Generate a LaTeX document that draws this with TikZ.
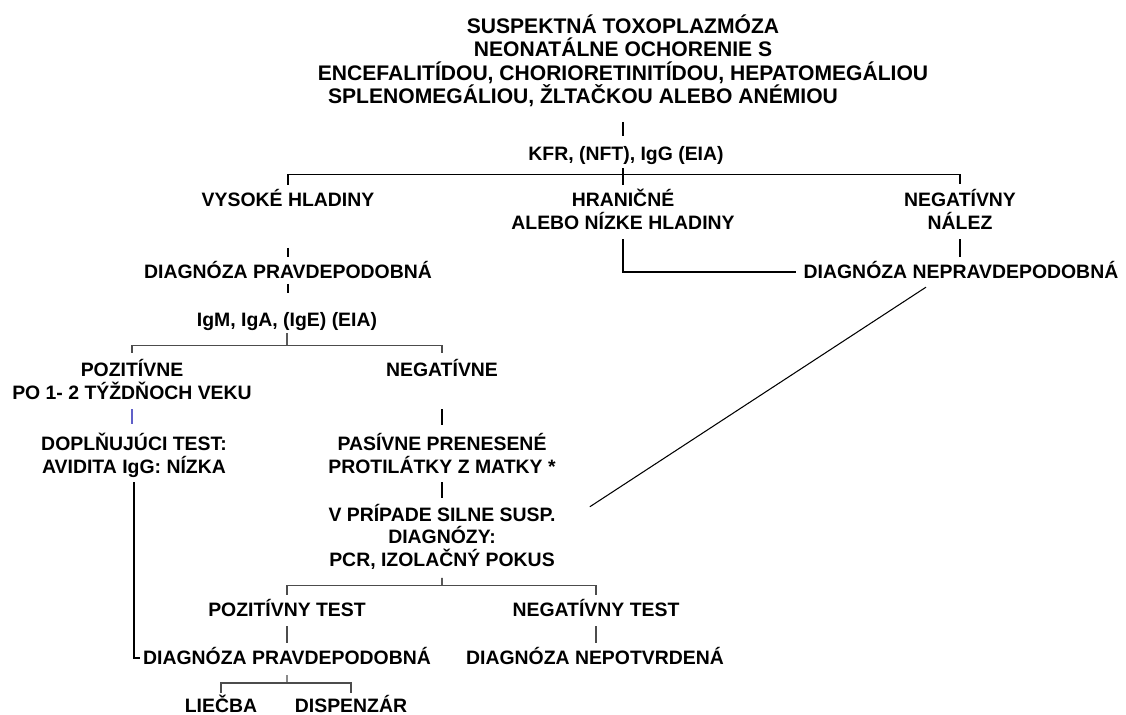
\documentclass[tikz,border=0pt]{standalone}
\usepackage{fontspec}
\setmainfont{Liberation Sans}
\usetikzlibrary{calc}
\definecolor{tickblue}{RGB}{96,96,200}
\newcommand\ystrut{\rule[-2.6pt]{0pt}{13pt}}
\newcommand\tstrut{\rule[-1.9pt]{0pt}{13.3pt}}

\begin{document}
\begin{tikzpicture}[x=0.02cm,y=-0.02cm]
    \tikzstyle{every node} = [font=\fontsize{11.05}{13}\selectfont\bfseries, inner sep=0pt, align=center]
    \tikzstyle{head} = [font=\fontsize{12}{13.3}\selectfont\bfseries]
    \tikzstyle{conn} = [line width=0.6pt]
    \tikzstyle{branch} = [line width=0.6pt, black!70]
    \useasboundingbox (0,0) rectangle (1126,715);
    % place nodes
    \node[head](title) at (623,60.25){\tstrut SUSPEKTNÁ TOXOPLAZMÓZA\\NEONATÁLNE OCHORENIE S\\ENCEFALITÍDOU, CHORIORETINITÍDOU, HEPATOMEGÁLIOU\\SPLENOMEGÁLIOU, ŽLTAČKOU ALEBO ANÉMIOU\hspace*{1.6cm}\tstrut};
    \node(kfr) at (626,154){KFR, (NFT), IgG (EIA)\ystrut};
    \node(vys) at (288,200){VYSOKÉ HLADINY\ystrut};
    \node(hran) at (623,211){HRANIČNÉ\ystrut\\ALEBO NÍZKE HLADINY\ystrut};
    \node(neg) at (960,211){NEGATÍVNY\ystrut\\NÁLEZ\ystrut};
    \node(dpr) at (288,272){DIAGNÓZA PRAVDEPODOBNÁ\ystrut};
    \node(dnep) at (961,272){DIAGNÓZA NEPRAVDEPODOBNÁ\ystrut};
    \node(igm) at (287,320){IgM, IgA, (IgE) (EIA)\ystrut};
    \node(poz) at (132,381.5){POZITÍVNE\ystrut\\PO 1- 2 TÝŽDŇOCH VEKU\ystrut};
    \node(negv) at (442,370){NEGATÍVNE\ystrut};
    \node(dopl) at (134,455){DOPLŇUJÚCI TEST:\ystrut\\AVIDITA IgG: NÍZKA\ystrut};
    \node(pas) at (442,455){PASÍVNE PRENESENÉ\ystrut\\PROTILÁTKY Z MATKY *\ystrut};
    \node(vpr) at (442,537){V PRÍPADE SILNE SUSP.\ystrut\\DIAGNÓZY:\ystrut\\PCR, IZOLAČNÝ POKUS\ystrut};
    \node(pozt) at (287,610){POZITÍVNY TEST\ystrut};
    \node(negt) at (596,610){NEGATÍVNY TEST\ystrut};
    \node(dpr2) at (287,658){DIAGNÓZA PRAVDEPODOBNÁ\ystrut};
    \node(dnepot) at (595,658){DIAGNÓZA NEPOTVRDENÁ\ystrut};
    \node(lie) at (221,706){LIEČBA\ystrut};
    \node(disp) at (351,706){DISPENZÁR\ystrut};

    % Connections
    \draw[conn, shorten <=8.3pt, shorten >=3.7pt] (title.south) -- (title.south |- kfr.north);
    \draw[conn, shorten <=1.4pt, shorten >=1.8pt] (hran.north |- kfr.south) -- (hran.north);
    \coordinate (b1) at ($(kfr.south)!0.4!(hran.north)$);
    \draw[conn, shorten <=2pt, shorten >=2pt] (vys.north) |- (b1) -| (neg.north);
    \draw[conn, shorten <=20.6pt, shorten >=2pt] (vys.south) -- (dpr.north);
    \draw[conn, line width=0.9pt, shorten <=2.8pt, shorten >=4pt] (hran.south) |- (dnep.west);
    \draw[conn, shorten <=2.8pt, shorten >=2pt] (neg.south) -- (neg.south |- dnep.north);
    \draw[conn] ($(dnep.south)+(-35,3.4)$) -- ($(vpr.north east)+(34,4.4)$);

    \draw[conn, shorten >=8.8pt] (dpr.south) -- (dpr.south |- igm.north);
    \coordinate (b2) at ($(igm.south)!0.5!(igm.south |- poz.north)$);
    \draw[conn, shorten <=0.8pt] (igm.south) -- (b2);
    \draw[branch, shorten <=3.2pt, shorten >=3.2pt] (poz.north) |- (b2) -| (negv.north);
    \draw[conn, tickblue, shorten <=2.5pt, shorten >=4.3pt] (poz.south) -- (poz.south |- dopl.north);
    \draw[conn, shorten <=15.5pt, shorten >=4pt] (negv.south) -- (pas.north);
    \draw[conn, shorten <=2.2pt, shorten >=2.6pt] (pas.south) -- (vpr.north);
    \draw[conn, shorten <=2.2pt, shorten >=1.7pt] (dopl.south) |- (dpr2.west);

    \coordinate (b3) at ($(vpr.south)!0.53!(vpr.south |- pozt.north)$);
    \draw[conn, shorten <=3.6pt] (vpr.south) -- (b3);
    \draw[branch, shorten <=2pt, shorten >=2pt] (pozt.north) |- (b3) -| (negt.north);
    \draw[branch, shorten <=2.5pt, shorten >=2pt] (pozt.south) -- (dpr2.north);
    \draw[branch, shorten <=2.5pt, shorten >=2pt] (negt.south) -- (negt.south |- dnepot.north);
    \coordinate (b4) at ($(dpr2.south)!0.54!(dpr2.south |- lie.north)$);
    \draw[branch, shorten <=3pt] (dpr2.south) -- (b4);
    \draw[branch, shorten <=0.9pt, shorten >=0.9pt] (lie.north) |- (b4) -| (disp.north);
\end{tikzpicture}
\end{document}
